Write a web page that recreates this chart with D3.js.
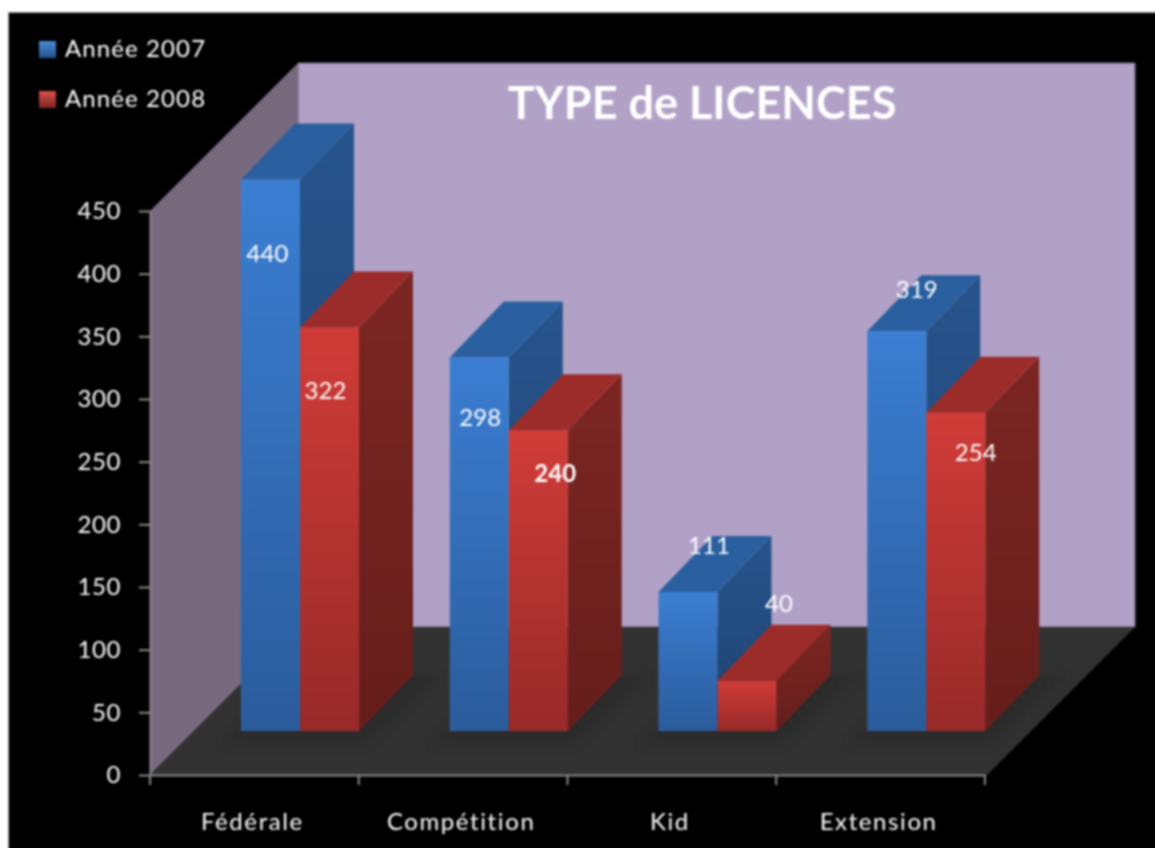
<!DOCTYPE html>
<html>
<head>
<meta charset="UTF-8">
<title>TYPE de LICENCES</title>
<script type="text/javascript" src="https://cdn.jsdelivr.net/npm/d3@7/dist/d3.min.js"></script>
<style>
html, body { margin: 0; padding: 0; background: #fff; overflow: hidden; }
svg { display: block; }
text { font-family: Lato, "Open Sans", sans-serif; fill: #fff; }
</style>
</head>
<body>
<script type="text/javascript">
// data
var categories = ["Fédérale", "Compétition", "Kid", "Extension"];
var seriesNames = ["Année 2007", "Année 2008"];
var values2007 = [440, 298, 111, 319];
var values2008 = [322, 240, 40, 254];
var yTicks = [0, 50, 100, 150, 200, 250, 300, 350, 400, 450];
var chartTitle = "TYPE de LICENCES";

// label offsets from the top centre of each bar, they were placed by hand in the original
var labelNudge2007 = [[-3, 74], [1, 60], [21, -46], [20, -41]];
var labelNudge2008 = [[-4, 64], [17, 44], [32, -77], [20, 40]];

var width = 1155, height = 848;
var bleed = 20;        // svg is bigger than the window so the blur does not fade at the edges
var depthWall = 148;   // depth of the box
var floorLift = 44;    // front of the bars above the front of the floor
var barDx = 54, barDy = 56;

var svg = d3.select("body").append("svg")
	.attr("width", width + bleed)
	.attr("height", height + bleed)
	.style("filter", "blur(0.8px)");

var defs = svg.append("defs");
function gradient(id, top, bottom) {
	var g = defs.append("linearGradient").attr("id", id)
		.attr("x1", 0).attr("y1", 0).attr("x2", 0).attr("y2", 1);
	g.append("stop").attr("offset", "0%").attr("stop-color", top);
	g.append("stop").attr("offset", "100%").attr("stop-color", bottom);
}
gradient("front0", "#3b7ed2", "#2b5c9c");
gradient("front1", "#d03c38", "#982a29");
gradient("side0", "#27548c", "#1e4272");
gradient("side1", "#7c2622", "#661e1b");
gradient("swatch0", "#4a8bd6", "#24508a");
gradient("swatch1", "#d9504c", "#7e2422");
defs.append("filter").attr("id", "soft")
	.attr("x", "-20%").attr("y", "-20%").attr("width", "140%").attr("height", "140%")
	.append("feGaussianBlur").attr("stdDeviation", 6);

var yScale = d3.scaleLinear().domain([0, 450]).range([775, 211]);
var xScale = d3.scaleBand().domain(categories).range([150, 985]);
var seriesScale = d3.scaleBand().domain([0, 1]).range([91, 209]);

var colors = {
	side: ["url(#side0)", "url(#side1)"],
	front: ["url(#front0)", "url(#front1)"],
	top: ["#2a5f9f", "#9c2c2a"],
	swatch: ["url(#swatch0)", "url(#swatch1)"]
};

function pts(list) {
	return list.map(function(p) { return p.join(","); }).join(" ");
}

// background
svg.append("rect").attr("width", width + bleed).attr("height", height + bleed).attr("fill", "#fff");
svg.append("rect").attr("x", 8.5).attr("y", 12.5).attr("width", width + bleed).attr("height", height + bleed)
	.attr("fill", "#000").attr("stroke", "#999").attr("stroke-width", 1);

// box: back wall, side wall, floor
var x0 = xScale.range()[0], x1 = xScale.range()[1] + 2;
var y0 = yScale(0), yTop = yScale(450);
svg.append("polygon")
	.attr("points", pts([[x0 + depthWall, yTop - depthWall], [x1 + depthWall, yTop - depthWall], [x1 + depthWall, y0 - depthWall], [x0 + depthWall, y0 - depthWall]]))
	.attr("fill", "#b1a1c7").attr("stroke", "#6f6480").attr("stroke-width", 1);
svg.append("polygon")
	.attr("points", pts([[x0, yTop], [x0 + depthWall, yTop - depthWall], [x0 + depthWall, y0 - depthWall], [x0, y0]]))
	.attr("fill", "#78697f");
svg.append("polygon")
	.attr("points", pts([[x0, y0], [x0 + depthWall, y0 - depthWall], [x1 + depthWall, y0 - depthWall], [x1, y0]]))
	.attr("fill", "#323232");

// title
svg.append("text")
	.attr("x", 702).attr("y", 119)
	.attr("text-anchor", "middle")
	.style("font-size", "45px").style("font-weight", 700)
	.text(chartTitle);

// shadows on the floor
var baseY = yScale(0) - floorLift;
svg.append("g").selectAll("polygon")
	.data(categories)
	.enter().append("polygon")
	.attr("points", function(d) {
		var l = xScale(d) + seriesScale(0) - 20, r = xScale(d) + seriesScale(1) + seriesScale.bandwidth();
		return pts([[l, baseY + 13], [l + barDx + 20, baseY - barDy], [r + barDx + 28, baseY - barDy], [r + 6, baseY + 13]]);
	})
	.attr("fill", "#2a2a2a")
	.attr("filter", "url(#soft)");

// bars
var bars = [];
categories.forEach(function(c, i) {
	bars.push({ cat: c, s: 0, val: values2007[i], nudge: labelNudge2007[i] });
	bars.push({ cat: c, s: 1, val: values2008[i], nudge: labelNudge2008[i] });
});
function barY(d) { return baseY - (yScale(0) - yScale(d.val)); }
function barL(d) { return xScale(d.cat) + seriesScale(d.s); }
var bw = seriesScale.bandwidth();

var barG = svg.append("g").selectAll("g").data(bars).enter().append("g");
barG.append("polygon")
	.attr("points", function(d) {
		var r = barL(d) + bw, t = barY(d);
		return pts([[r, t], [r + barDx, t - barDy], [r + barDx, baseY - barDy], [r, baseY]]);
	})
	.attr("fill", function(d) { return colors.side[d.s]; });
barG.append("polygon")
	.attr("points", function(d) {
		var l = barL(d), t = barY(d);
		return pts([[l, t], [l + barDx, t - barDy], [l + bw + barDx, t - barDy], [l + bw, t]]);
	})
	.attr("fill", function(d) { return colors.top[d.s]; });
barG.append("rect")
	.attr("x", barL)
	.attr("y", barY)
	.attr("width", bw)
	.attr("height", function(d) { return baseY - barY(d); })
	.attr("fill", function(d) { return colors.front[d.s]; });

// value labels
svg.append("g").selectAll("text")
	.data(bars)
	.enter().append("text")
	.attr("x", function(d) { return barL(d) + bw / 2 + d.nudge[0]; })
	.attr("y", function(d) { return barY(d) + d.nudge[1] + 8; })
	.attr("text-anchor", "middle")
	.style("font-size", "24px")
	.style("font-weight", function(d) { return d.val === 240 ? 700 : 400; })
	.text(function(d) { return d.val; });

// axes
var yAxis = svg.append("g")
	.attr("transform", "translate(" + x0 + ",0)")
	.call(d3.axisLeft(yScale).tickValues(yTicks).tickSize(11).tickPadding(18).tickSizeOuter(0));
yAxis.selectAll("text").style("font-size", "24px").style("letter-spacing", "0.6px").attr("fill", "#fff");

var xAxis = svg.append("g")
	.attr("transform", "translate(-2," + y0 + ")")
	.call(d3.axisBottom(xScale).tickSize(0).tickPadding(38));
xAxis.selectAll("text").style("font-size", "24px").style("letter-spacing", "1.6px").attr("fill", "#fff");
xAxis.select(".domain").attr("transform", "translate(2,0)");

// ticks of the x axis sit between the categories
xAxis.selectAll(".boundary")
	.data(xScale.domain().map(xScale).concat([xScale.range()[1]]))
	.enter().append("line")
	.attr("class", "boundary")
	.attr("x1", function(d) { return d + 2; }).attr("x2", function(d) { return d + 2; })
	.attr("y1", 0).attr("y2", 10);

svg.selectAll(".domain, .tick line, .boundary")
	.attr("stroke", "#8a8a8a").attr("stroke-width", 2);

// legend
var legend = svg.append("g").selectAll("g")
	.data(seriesNames)
	.enter().append("g")
	.attr("transform", function(d, i) { return "translate(39," + (41 + i * 50) + ")"; });
legend.append("rect")
	.attr("width", 17).attr("height", 17)
	.attr("fill", function(d, i) { return colors.swatch[i]; });
legend.append("text")
	.attr("x", 26).attr("y", 16)
	.style("font-size", "24px")
	.style("letter-spacing", "1.1px")
	.text(function(d) { return d; });
</script>
</body>
</html>
